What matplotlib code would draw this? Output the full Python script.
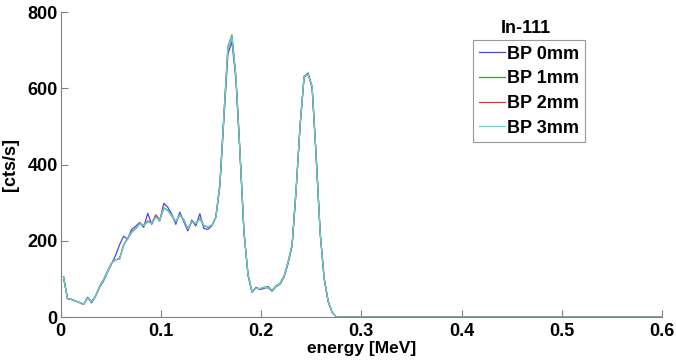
import numpy as np
import matplotlib
matplotlib.use("Agg")
import matplotlib.pyplot as plt

plt.rcParams['font.family'] = ['Liberation Sans', 'DejaVu Sans']
plt.rcParams['font.weight'] = 'bold'

# energy grid [MeV], 4 keV channels up to ~0.28, then flat zero to 0.6
energy = list(np.round(np.arange(0.003, 0.2831, 0.004), 3)) + [0.3, 0.6]

bp0 = [105, 48, 46, 42, 38, 33, 52, 37, 55, 78, 95, 118, 140, 162, 190, 212,
       204, 230, 238, 248, 235, 272, 243, 265, 252, 298, 288, 270, 243, 275,
       250, 226, 254, 239, 271, 232, 230, 239, 262, 343, 518, 690, 722, 622,
       431, 222, 110, 65, 78, 72, 75, 80, 68, 80, 86, 105, 140, 186, 330, 500,
       630, 640, 600, 420, 220, 100, 40, 12, 0, 0, 0, 0, 0]
bp1 = [105, 48, 46, 42, 38, 33, 50, 40, 55, 80, 98, 120, 142, 150, 152, 188,
       206, 222, 232, 245, 240, 250, 246, 262, 255, 285, 280, 266, 250, 268,
       255, 232, 250, 245, 258, 240, 236, 240, 262, 350, 530, 710, 740, 630,
       435, 225, 112, 68, 76, 74, 78, 78, 70, 82, 88, 108, 145, 190, 335, 505,
       632, 638, 605, 425, 222, 102, 42, 12, 0, 0, 0, 0, 0]
bp2 = [105, 48, 46, 42, 38, 33, 50, 40, 55, 80, 98, 120, 142, 150, 155, 190,
       206, 224, 232, 246, 240, 252, 246, 268, 255, 286, 280, 265, 250, 268,
       255, 230, 250, 245, 258, 240, 236, 240, 262, 348, 528, 705, 735, 628,
       433, 224, 112, 66, 76, 74, 78, 76, 68, 80, 88, 106, 142, 188, 333, 503,
       630, 636, 603, 423, 221, 101, 41, 12, 0, 0, 0, 0, 0]
bp3 = [105, 48, 46, 42, 38, 33, 50, 40, 55, 80, 98, 120, 142, 150, 153, 188,
       206, 222, 232, 245, 240, 250, 246, 262, 255, 285, 280, 266, 250, 268,
       255, 232, 250, 245, 258, 240, 236, 240, 262, 348, 528, 706, 736, 628,
       433, 224, 112, 67, 76, 74, 78, 77, 69, 81, 88, 107, 143, 189, 334, 504,
       631, 637, 604, 424, 221, 101, 41, 12, 0, 0, 0, 0, 0]

labels = ['BP 0mm', 'BP 1mm', 'BP 2mm', 'BP 3mm']
colors = ['#4848f0', '#3c9c3c', '#f03030', '#50dcdc']

fig = plt.figure(figsize=(6.76, 3.62), dpi=100)
ax = fig.add_axes([0.0895, 0.1243, 0.8898, 0.8425])

for y, lab, c in zip([bp0, bp1, bp2, bp3], labels, colors):
    ax.plot(energy[:len(y)], y, color=c, lw=0.9, label=lab)

ax.set_xlim(0, 0.6)
ax.set_ylim(0, 800)
ax.set_xticks([0, 0.1, 0.2, 0.3, 0.4, 0.5, 0.6])
ax.set_xticklabels(['0', '0.1', '0.2', '0.3', '0.4', '0.5', '0.6'])
ax.set_yticks([0, 200, 400, 600, 800])
ax.tick_params(direction='in', length=5, width=0.8, color='#808080',
               labelsize=13, pad=2)
ax.tick_params(axis='x', pad=4.5)
for lbl in ax.get_xticklabels() + ax.get_yticklabels():
    lbl.set_fontweight('bold')
ax.spines['top'].set_visible(False)
ax.spines['right'].set_visible(False)
for s in ['left', 'bottom']:
    ax.spines[s].set_color('#808080')
    ax.spines[s].set_linewidth(0.8)

ax.set_xlabel('energy [MeV]', fontsize=12.5, fontweight='bold', labelpad=0.5)
ax.set_ylabel('[cts/s]', fontsize=13, fontweight='bold', labelpad=6)

leg = ax.legend(loc='upper left', bbox_to_anchor=(0.686, 0.907), fontsize=13,
                frameon=True, fancybox=False, handlelength=1.45,
                handletextpad=0.15, borderpad=0.3, labelspacing=0.42,
                borderaxespad=0)
leg.get_frame().set_edgecolor('#808080')
leg.get_frame().set_linewidth(0.8)
for t in leg.get_texts():
    t.set_fontweight('bold')
ax.text(0.774, 0.931, 'In-111', transform=ax.transAxes, ha='center',
        va='baseline', fontsize=13, fontweight='bold')

fig.savefig('out.png', dpi=100)
